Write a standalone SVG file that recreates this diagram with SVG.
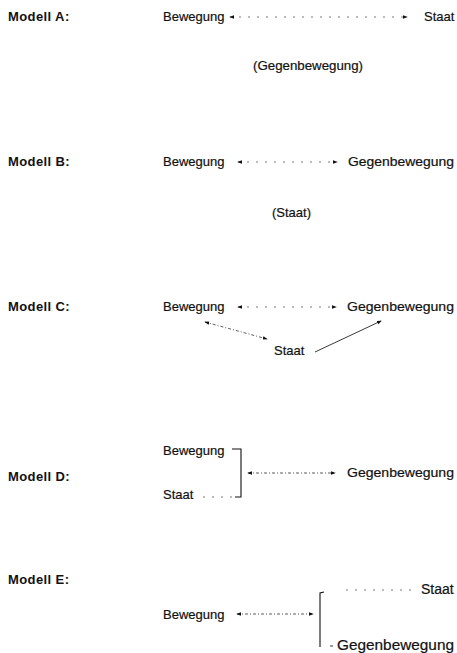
<svg xmlns="http://www.w3.org/2000/svg" width="457" height="653" viewBox="0 0 457 653">
<defs>
<style>
.lbl{font-family:"Liberation Sans",Arial,sans-serif;font-weight:bold;font-size:13px;letter-spacing:0.4px;fill:#111}
.t{font-family:"Liberation Sans",Arial,sans-serif;font-size:13px;fill:#111;stroke:#111;stroke-width:0.2}
.tl{font-family:"Liberation Sans",Arial,sans-serif;font-size:14px;fill:#111;stroke:#111;stroke-width:0.2}
.dash{fill:none;stroke:#555;stroke-width:0.8;stroke-dasharray:2 7}
.dash2{fill:none;stroke:#333;stroke-width:0.8;stroke-dasharray:3 2 1 2}
.solid{fill:none;stroke:#222;stroke-width:0.9}
.br{fill:none;stroke:#111;stroke-width:1.1}
</style>
<marker id="ah" viewBox="0 0 6 6" refX="5" refY="3" markerWidth="5" markerHeight="5" orient="auto-start-reverse" markerUnits="userSpaceOnUse">
<path d="M0,0.8 L6,3 L0,5.2 Z" fill="#111"/>
</marker>
</defs>
<rect width="457" height="653" fill="#fff"/>

<g id="labels">
<text class="lbl" x="8" y="21">Modell A:</text>
<text class="lbl" x="8" y="166">Modell B:</text>
<text class="lbl" x="8" y="311">Modell C:</text>
<text class="lbl" x="8" y="481">Modell D:</text>
<text class="lbl" x="8" y="584">Modell E:</text>
</g>

<g id="modelA">
<g id="a-bewegung"><text class="t" x="163" y="21">Bewegung</text></g>
<g id="a-staat"><text class="t" x="424" y="21">Staat</text></g>
<g id="a-gegen"><text class="t" x="253" y="70" textLength="110" lengthAdjust="spacingAndGlyphs">(Gegenbewegung)</text></g>
</g>

<g id="modelB">
<g id="b-bewegung"><text class="t" x="163" y="166">Bewegung</text></g>
<g id="b-gegen"><text class="t" x="348" y="166" textLength="106" lengthAdjust="spacingAndGlyphs">Gegenbewegung</text></g>
<g id="b-staat"><text class="t" x="272" y="217">(Staat)</text></g>
</g>

<g id="modelC">
<g id="c-bewegung"><text class="t" x="163" y="311">Bewegung</text></g>
<g id="c-gegen"><text class="t" x="347" y="311" textLength="107" lengthAdjust="spacingAndGlyphs">Gegenbewegung</text></g>
<g id="c-staat"><text class="t" x="274" y="355">Staat</text></g>
</g>

<g id="modelD">
<g id="d-bewegung"><text class="t" x="163" y="455">Bewegung</text></g>
<g id="d-staat"><text class="t" x="163" y="499">Staat</text></g>
<g id="d-gegen"><text class="t" x="347" y="477" textLength="107" lengthAdjust="spacingAndGlyphs">Gegenbewegung</text></g>
</g>

<g id="modelE">
<g id="e-bewegung"><text class="t" x="163" y="619">Bewegung</text></g>
<g id="e-staat"><text class="tl" x="421" y="594">Staat</text></g>
<g id="e-gegen"><text class="tl" x="337" y="650" textLength="117" lengthAdjust="spacingAndGlyphs">Gegenbewegung</text></g>
</g>

<g id="connectors">
<!-- A -->
<path class="dash" d="M230,17 L407,17" marker-start="url(#ah)" marker-end="url(#ah)"/>
<!-- B -->
<path class="dash" d="M238,162 L337,162" marker-start="url(#ah)" marker-end="url(#ah)"/>
<!-- C -->
<path class="dash" d="M238,307 L336,307" marker-start="url(#ah)" marker-end="url(#ah)"/>
<path class="dash2" d="M205,322 L267,339" marker-start="url(#ah)" marker-end="url(#ah)"/>
<path class="solid" d="M315,352 L381,321" marker-end="url(#ah)"/>
<!-- D -->
<path class="br" d="M232,449 L241,449 L241,497 L235,497"/>
<path class="dash" d="M203,497 L233,497"/>
<path class="dash2" d="M248,473 L335,473" marker-start="url(#ah)" marker-end="url(#ah)"/>
<!-- E -->
<path class="br" d="M324,592 L320,593 L320,647"/>
<path class="dash2" d="M237,614 L313,614" marker-start="url(#ah)" marker-end="url(#ah)"/>
<path class="dash" d="M346,590 L414,590"/>
<path class="solid" d="M330,646 L333,646"/>
</g>
</svg>
